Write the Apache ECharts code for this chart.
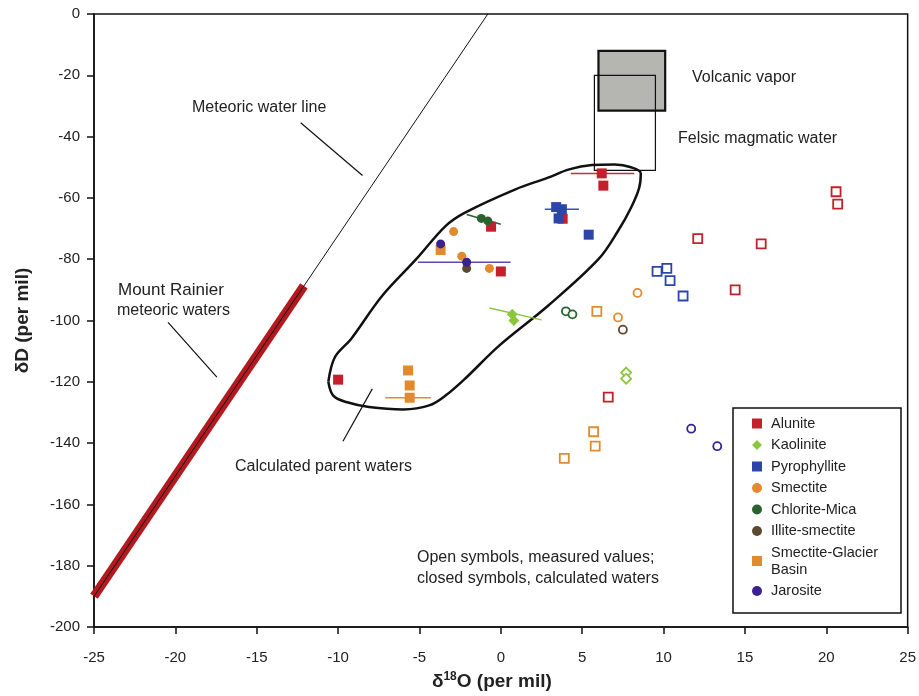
<!DOCTYPE html>
<html>
<head>
<meta charset="utf-8">
<script src="https://cdn.jsdelivr.net/npm/echarts@6/dist/echarts.min.js"></script>
<style>
  html, body { margin: 0; padding: 0; background: #fff; }
  #chart { width: 919px; height: 696px; }
</style>
</head>
<body>
<div id="chart"></div>
<script>
// axis ticks
var xTicks = [-25, -20, -15, -10, -5, 0, 5, 10, 15, 20, 25];
var yTicks = [-200, -180, -160, -140, -120, -100, -80, -60, -40, -20, 0];

// calculated waters (closed symbols)
var alunite = [[6.2, -52], [6.3, -56], [3.8, -66.8], [-0.6, -69.4], [0.0, -84], [-10.0, -119.3]];
var kaolinite = [[0.7, -98], [0.8, -100]];
var pyrophyllite = [[3.4, -63], [3.75, -63.7], [3.55, -66.7], [5.4, -72]];
var smectite = [[-2.9, -71], [-2.4, -79], [-0.7, -83]];
var chloriteMica = [[-1.2, -66.7], [-0.8, -67.5]];
var illiteSmectite = [[-2.1, -83]];
var smectiteGlacier = [[-3.7, -77], [-5.7, -116.3], [-5.6, -121.2], [-5.6, -125.2]];
var jarosite = [[-3.7, -75], [-2.1, -81]];

// measured values (open symbols)
var aluniteMeas = [[20.6, -58], [20.7, -62], [12.1, -73.3], [16.0, -75], [14.4, -90], [6.6, -125]];
var kaoliniteMeas = [[7.7, -117], [7.7, -119]];
var pyrophylliteMeas = [[9.6, -84], [10.2, -83], [10.4, -87], [11.2, -92]];
var smectiteMeas = [[8.4, -91], [7.2, -99]];
var chloriteMicaMeas = [[4.0, -97], [4.4, -98]];
var illiteSmectiteMeas = [[7.5, -103]];
var smectiteGlacierMeas = [[5.9, -97], [5.7, -136.3], [5.8, -141], [3.9, -145]];
var jarositeMeas = [[11.7, -135.3], [13.3, -141]];

// ranges on calculated values
var aluniteRange = [[4.3, -52], [8.2, -52]];
var pyrophylliteRange = [[2.7, -63.7], [4.8, -63.7]];
var jarositeRange = [[-5.1, -81], [0.6, -81]];
var glacierRange = [[-7.1, -125.2], [-4.3, -125.2]];
var chloriteRange = [[-2.1, -65.4], [0.0, -68.6]];
var kaoliniteRange = [[-0.7, -95.9], [2.5, -99.8]];

// reference lines and fields
var meteoricLine = [[-25, -190], [-0.8, 0]];
var rainierWaters = [[-25, -190], [-12.1, -88.7]];
var volcanicVapor = [[6.0, 10.1, -31.5, -12]];
var felsicWater = [[5.75, 9.5, -51, -20]];
var parentField = [[-10.6, -120], [-10.2, -112], [-9.2, -106], [-7.3, -92], [-5.2, -80], [-3.4, -69.2],
  [-2.2, -64.8], [0.9, -57.2], [2.9, -53.4], [4.2, -50.7], [5.6, -49.3], [7.0, -49.1], [8.0, -50],
  [8.6, -52], [8.5, -56.7], [8.0, -63.2], [7.2, -70.8], [6.0, -80], [2.9, -95.2], [-0.1, -108.2],
  [-2.2, -119], [-3.4, -124.5], [-4.4, -127.7], [-6.0, -129], [-8.1, -128.2], [-9.5, -126.6],
  [-10.3, -124.5], [-10.6, -120]];

// leader lines
var meteoricLeader = [[-12.3, -35.5], [-8.5, -52.7]];
var rainierLeader = [[-20.45, -100.6], [-17.45, -118.5]];
var parentLeader = [[-7.9, -122.3], [-9.7, -139.4]];

var FONT = 'Liberation Sans, Arial, sans-serif';
var chart = echarts.init(document.getElementById('chart'));

function boxSeries(data, fill, width) {
  return {
    type: 'custom',
    data: data,
    silent: true,
    renderItem: function(params, api) {
      var p1 = api.coord([api.value(0), api.value(3)]);
      var p2 = api.coord([api.value(1), api.value(2)]);
      return {
        type: 'rect',
        shape: { x: p1[0], y: p1[1], width: p2[0] - p1[0], height: p2[1] - p1[1] },
        style: { fill: fill, stroke: '#111', lineWidth: width }
      };
    }
  };
}

function lineSeries(data, color, width, extra) {
  var s = {
    type: 'line',
    data: data,
    symbol: 'none',
    silent: true,
    lineStyle: { color: color, width: width },
    animation: false
  };
  if (extra) Object.assign(s, extra);
  return s;
}

function closed(name, data, symbol, color, size) {
  return {
    name: name,
    type: 'scatter',
    data: data,
    symbol: symbol,
    symbolSize: size,
    itemStyle: { color: color, opacity: 1 },
    z: 5
  };
}

function open(name, data, symbol, color, size) {
  return {
    name: name + ' measured',
    type: 'scatter',
    data: data,
    symbol: symbol,
    symbolSize: size,
    itemStyle: { color: '#fff', borderColor: color, borderWidth: 1.8, opacity: 1 },
    z: 5
  };
}

var RED = '#c4202b', GREEN = '#8cc63e', BLUE = '#2b46a6', ORANGE = '#e38b2c',
  DKGREEN = '#2a6330', BROWN = '#5c4a30', PURPLE = '#3b2091';

function note(text, left, top, size) {
  return { type: 'text', left: left, top: top,
    style: { text: text, font: size + 'px ' + FONT, fill: '#222', lineHeight: 21 } };
}

var option = {
  backgroundColor: '#fff',
  animation: false,
  grid: { left: 94, right: 9, top: 14, bottom: 67, show: true, borderColor: '#111', borderWidth: 1.5 },
  xAxis: {
    type: 'value', min: -25, max: 25, interval: 5,
    axisLine: { show: true, onZero: false, lineStyle: { color: '#111', width: 1.5 } },
    axisTick: { show: true, length: 7, lineStyle: { color: '#111', width: 1.5 } },
    splitLine: { show: false },
    axisLabel: { color: '#222', fontSize: 15, fontFamily: FONT, margin: 23 },
    name: '{d|δ}{s|18}{d|O (per mil)}',
    nameLocation: 'middle',
    nameGap: 44,
    nameTextStyle: {
      padding: [0, 18, 0, 0],
      rich: {
        d: { fontSize: 19, fontWeight: 'bold', fontFamily: FONT, color: '#222' },
        s: { fontSize: 12, fontWeight: 'bold', fontFamily: FONT, color: '#222', padding: [0, 0, 9, 0] }
      }
    }
  },
  yAxis: {
    type: 'value', min: -200, max: 0, interval: 20,
    axisLine: { show: true, onZero: false, lineStyle: { color: '#111', width: 1.5 } },
    axisTick: { show: true, length: 7, lineStyle: { color: '#111', width: 1.5 } },
    splitLine: { show: false },
    axisLabel: { color: '#222', fontSize: 15, fontFamily: FONT, margin: 14 },
    name: 'δD (per mil)',
    nameLocation: 'middle',
    nameGap: 62,
    nameTextStyle: { fontSize: 19, fontWeight: 'bold', fontFamily: FONT, color: '#222' }
  },
  legend: {
    left: 752, top: 415, orient: 'vertical',
    itemWidth: 10, itemHeight: 10, itemGap: 4.5,
    padding: 0,
    selectedMode: false,
    textStyle: { fontSize: 14.5, fontFamily: FONT, color: '#222', lineHeight: 17, padding: [0, 0, 0, 4] },
    formatter: function(name) { return name.replace(' Basin', '\nBasin'); },
    data: [
      { name: 'Alunite', icon: 'rect' },
      { name: 'Kaolinite', icon: 'diamond' },
      { name: 'Pyrophyllite', icon: 'rect' },
      { name: 'Smectite', icon: 'circle' },
      { name: 'Chlorite-Mica', icon: 'circle' },
      { name: 'Illite-smectite', icon: 'circle' },
      { name: 'Smectite-Glacier Basin', icon: 'rect' },
      { name: 'Jarosite', icon: 'circle' }
    ]
  },
  graphic: [
    { type: 'rect', shape: { x: 733, y: 408, width: 168, height: 205 },
      style: { fill: 'none', stroke: '#111', lineWidth: 1.5 }, z: 10 },
    note('Meteoric water line', 192, 97, 16),
    note('Mount Rainier', 118, 280, 17),
    note('meteoric waters', 117, 300, 16),
    note('Calculated parent waters', 235, 456, 16),
    note('Volcanic vapor', 692, 67, 16),
    note('Felsic magmatic water', 678, 128, 16),
    note('Open symbols, measured values;\nclosed symbols, calculated waters', 417, 547, 16)
  ],
  series: [
    boxSeries(volcanicVapor, '#b5b5b1', 2.2),
    boxSeries(felsicWater, 'none', 1.2),
    lineSeries(meteoricLine, '#111', 1),
    lineSeries(rainierWaters, '#b3191f', 9, { z: 3 }),
    lineSeries(rainierWaters, '#111', 1, { z: 4 }),
    lineSeries(meteoricLeader, '#111', 1.2),
    lineSeries(rainierLeader, '#111', 1.2),
    lineSeries(parentLeader, '#111', 1.2),
    lineSeries(parentField, '#111', 2.5, { smooth: 0.35 }),
    lineSeries(aluniteRange, '#d42a2a', 1.5, { z: 4 }),
    lineSeries(pyrophylliteRange, '#3a4fbf', 1.5, { z: 4 }),
    lineSeries(jarositeRange, '#5a4ab8', 1.5, { z: 4 }),
    lineSeries(glacierRange, ORANGE, 1.5, { z: 4 }),
    lineSeries(chloriteRange, DKGREEN, 1.5, { z: 4 }),
    lineSeries(kaoliniteRange, GREEN, 1.5, { z: 4 }),
    closed('Alunite', alunite, 'rect', RED, 10),
    closed('Kaolinite', kaolinite, 'diamond', GREEN, 11),
    closed('Pyrophyllite', pyrophyllite, 'rect', BLUE, 10),
    closed('Smectite', smectite, 'circle', ORANGE, 9),
    closed('Chlorite-Mica', chloriteMica, 'circle', DKGREEN, 9),
    closed('Illite-smectite', illiteSmectite, 'circle', BROWN, 9),
    closed('Smectite-Glacier Basin', smectiteGlacier, 'rect', ORANGE, 10),
    closed('Jarosite', jarosite, 'circle', PURPLE, 9),
    open('Alunite', aluniteMeas, 'rect', RED, 9),
    open('Kaolinite', kaoliniteMeas, 'diamond', GREEN, 10),
    open('Pyrophyllite', pyrophylliteMeas, 'rect', BLUE, 9),
    open('Smectite', smectiteMeas, 'circle', ORANGE, 8),
    open('Chlorite-Mica', chloriteMicaMeas, 'circle', DKGREEN, 8),
    open('Illite-smectite', illiteSmectiteMeas, 'circle', BROWN, 8),
    open('Smectite-Glacier Basin', smectiteGlacierMeas, 'rect', ORANGE, 9),
    open('Jarosite', jarositeMeas, 'circle', PURPLE, 8)
  ]
};

chart.setOption(option);
</script>
</body>
</html>
